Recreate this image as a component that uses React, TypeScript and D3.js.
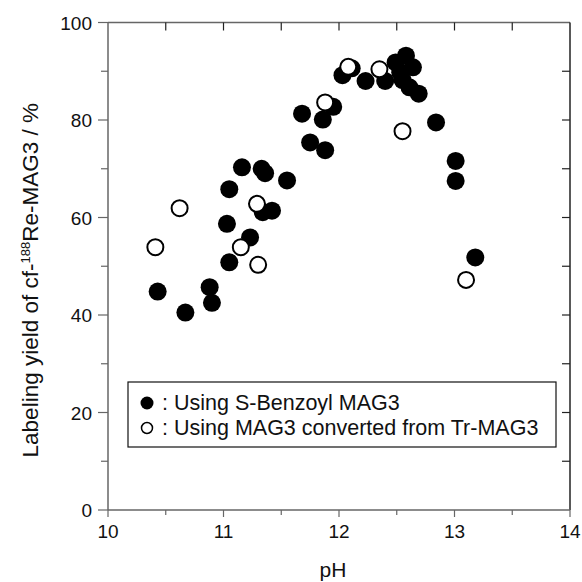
import React from "react";
import * as d3 from "d3";

const benzoylPH = [10.43, 10.67, 10.88, 10.9, 11.05, 11.03, 11.05, 11.16, 11.33, 11.36, 11.55, 11.23, 11.34, 11.42, 11.68, 11.86, 11.75, 11.88, 11.95, 12.03, 12.11, 12.23, 12.4, 12.58, 12.49, 12.64, 12.53, 12.55, 12.61, 12.69, 12.84, 13.01, 13.01, 13.18];
const benzoylYield = [44.8, 40.5, 45.7, 42.5, 50.8, 58.7, 65.8, 70.3, 70.0, 69.1, 67.6, 55.9, 61.1, 61.4, 81.3, 80.1, 75.4, 73.8, 82.7, 89.2, 90.6, 88.0, 88.0, 93.2, 91.8, 90.8, 89.8, 88.2, 86.7, 85.4, 79.5, 71.6, 67.5, 51.8];

const trPH = [10.41, 10.62, 11.15, 11.29, 11.3, 11.88, 12.08, 12.35, 12.55, 13.1];
const trYield = [53.9, 61.9, 53.9, 62.8, 50.3, 83.6, 90.9, 90.4, 77.7, 47.2];

const xMajor = [10, 11, 12, 13, 14];
const xMinor = [10.5, 11.5, 12.5, 13.5];
const yMajor = [0, 20, 40, 60, 80, 100];
const yMinor = [10, 30, 50, 70, 90];

const legendLabels = [": Using S-Benzoyl MAG3", ": Using MAG3 converted from Tr-MAG3"];

export default function App() {
  const W = 582, H = 582;
  const L = 108, R = 570, T = 22.5, B = 510;
  const x = d3.scaleLinear().domain([10, 14]).range([L, R]);
  const y = d3.scaleLinear().domain([0, 100]).range([B, T]);
  const font = "Liberation Sans, Arial, sans-serif";
  const axisGray = "#666";
  const axisDark = "#222";
  const r = 9;
  const topTicks = [...xMajor, ...xMinor];
  const rightTicks = [...yMajor, ...yMinor];

  return (
    <svg width={W} height={H} style={{ position: "absolute", left: 0, top: 0, background: "#fff" }} fontFamily={font}>
      <rect x={0} y={0} width={W} height={H} fill="#fff" />
      <line x1={L} x2={R} y1={T} y2={T} stroke={axisGray} strokeWidth={1.5} />
      <line x1={R} x2={R} y1={T} y2={B} stroke={axisDark} strokeWidth={1.5} />
      <line x1={L} x2={L} y1={T} y2={B} stroke={axisGray} strokeWidth={1.5} />
      <line x1={L} x2={R} y1={B} y2={B} stroke={axisGray} strokeWidth={1.5} />
      {xMajor.map((v) => (
        <line key={"xm" + v} x1={x(v)} x2={x(v)} y1={B} y2={B + 7} stroke={axisGray} strokeWidth={1.2} />
      ))}
      {xMinor.map((v) => (
        <line key={"xn" + v} x1={x(v)} x2={x(v)} y1={B} y2={B + 5} stroke={axisGray} strokeWidth={1.2} />
      ))}
      {topTicks.filter((v) => v > 10 && v < 14).map((v) => (
        <line key={"xt" + v} x1={x(v)} x2={x(v)} y1={T} y2={T + 8} stroke={axisDark} strokeWidth={1.2} />
      ))}
      {yMajor.map((v) => (
        <line key={"ym" + v} x1={L - 10} x2={L} y1={y(v)} y2={y(v)} stroke={axisGray} strokeWidth={1.2} />
      ))}
      {yMinor.map((v) => (
        <line key={"yn" + v} x1={L - 7} x2={L} y1={y(v)} y2={y(v)} stroke={axisGray} strokeWidth={1.2} />
      ))}
      {rightTicks.filter((v) => v > 0 && v < 100).map((v) => (
        <line key={"yr" + v} x1={R - 8} x2={R} y1={y(v)} y2={y(v)} stroke={axisDark} strokeWidth={1.2} />
      ))}
      {xMajor.map((v) => (
        <text key={"xl" + v} x={x(v)} y={B + 28} textAnchor="middle" fontSize={19} fill="#111">{v}</text>
      ))}
      {yMajor.map((v) => (
        <text key={"yl" + v} x={L - 16} y={y(v) + 7} textAnchor="end" fontSize={19} fill="#111">{v}</text>
      ))}
      <text x={(L + R) / 2 - 6} y={577} textAnchor="middle" fontSize={21} fill="#111">pH</text>
      <text transform={`translate(38, ${(T + B) / 2 + 14}) rotate(-90)`} textAnchor="middle" fontSize={22.5} fill="#111">
        Labeling yield of cf-<tspan fontSize={13} dy={-8}>188</tspan><tspan dy={8}>Re-MAG3 / %</tspan>
      </text>
      {benzoylPH.map((v, i) => (
        <circle key={"b" + i} cx={x(v)} cy={y(benzoylYield[i])} r={r} fill="#000" />
      ))}
      {trPH.map((v, i) => (
        <circle key={"t" + i} cx={x(v)} cy={y(trYield[i])} r={r - 1} fill="#fff" stroke="#000" strokeWidth={2} />
      ))}
      <rect x={128} y={382} width={428} height={65} fill="#fff" stroke="#111" strokeWidth={1.2} />
      <circle cx={147} cy={403} r={6.5} fill="#000" />
      <circle cx={147} cy={428} r={5.5} fill="#fff" stroke="#000" strokeWidth={1.5} />
      <text x={162} y={410} fontSize={21.5} fill="#111">{legendLabels[0]}</text>
      <text x={162} y={435} fontSize={21.5} fill="#111">{legendLabels[1]}</text>
    </svg>
  );
}
